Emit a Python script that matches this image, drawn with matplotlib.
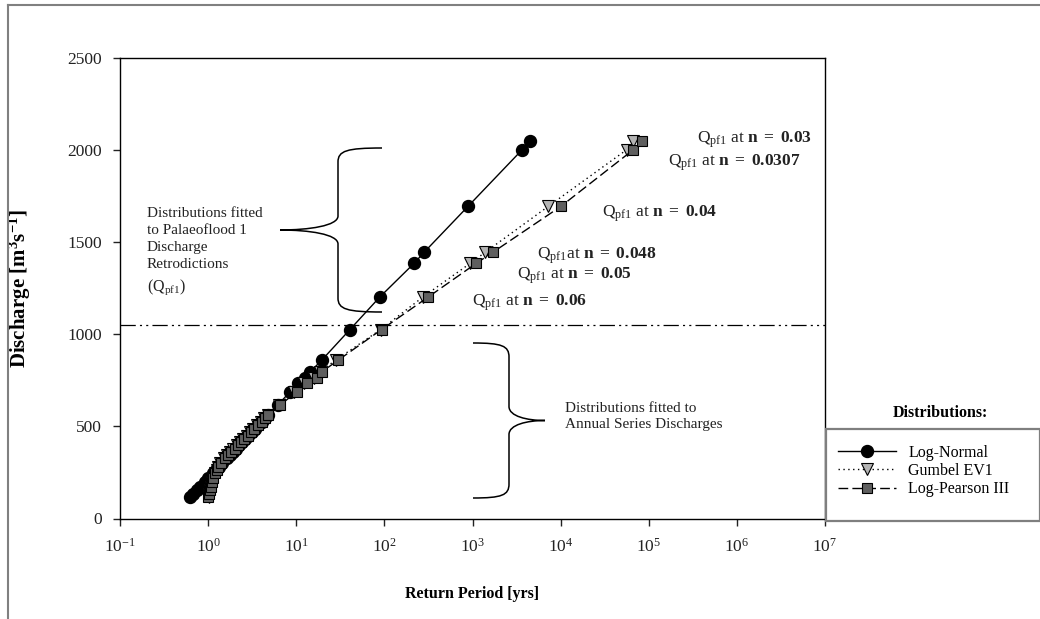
import matplotlib
matplotlib.use("Agg")
import matplotlib.pyplot as plt
from matplotlib.path import Path
from matplotlib.patches import PathPatch, Rectangle
from matplotlib.lines import Line2D
from matplotlib.ticker import NullLocator

# ---- data ----
# annual series discharges (m3/s) and the return periods each fit gives them
annual_q = [118, 135, 155, 172, 200, 218, 247, 265, 281, 300, 328, 345, 362, 380, 398,
            415, 432, 450, 468, 485, 505, 525, 545, 561, 615, 688, 735, 765, 796, 860, 1026]
lognormal_t_annual = [0.62, 0.67, 0.74, 0.80, 0.91, 0.99, 1.13, 1.23, 1.32, 1.44, 1.64, 1.77,
                      1.92, 2.08, 2.26, 2.44, 2.64, 2.86, 3.12, 3.37, 3.70, 4.05, 4.44, 4.77,
                      6.15, 8.5, 10.5, 12.6, 14.4, 19.5, 40.7]
gumbel_t_annual = [1.01, 1.03, 1.05, 1.08, 1.11, 1.14, 1.20, 1.25, 1.30, 1.38, 1.52, 1.64,
                   1.78, 1.94, 2.12, 2.30, 2.50, 2.73, 2.98, 3.24, 3.58, 3.95, 4.36, 4.72,
                   6.3, 9.5, 12.4, 15.8, 18.5, 28, 91]
lp3_t_annual = [1.00, 1.03, 1.05, 1.08, 1.10, 1.14, 1.20, 1.25, 1.29, 1.40, 1.55, 1.69,
                1.84, 2.01, 2.19, 2.38, 2.58, 2.82, 3.08, 3.34, 3.68, 4.06, 4.47, 4.83,
                6.55, 10.1, 13.2, 17.1, 19.5, 30, 93]

# palaeoflood 1 discharge retrodictions for several Manning n values
paleo_q = [1203, 1385, 1445, 1695, 2002, 2047]
paleo_n = ["0.06", "0.05", "0.048", "0.04", "0.0307", "0.03"]
lognormal_t_paleo = [89, 217, 282, 891, 3660, 4510]
gumbel_t_paleo = [275, 940, 1390, 7260, 56200, 66800]
lp3_t_paleo = [316, 1100, 1700, 10100, 66800, 83100]

threshold_q = 1050

W, H = 1040, 619

plt.rcParams["font.family"] = "Liberation Serif"
plt.rcParams["mathtext.fontset"] = "custom"
plt.rcParams["mathtext.rm"] = "Liberation Serif"
plt.rcParams["mathtext.bf"] = "Liberation Serif:bold"
plt.rcParams["mathtext.it"] = "Liberation Serif:italic"
plt.rcParams["lines.scale_dashes"] = False


def fx(x):
    return x / W


def fy(y):
    return 1 - y / H


def ax_xy(x, y):
    # pixel position -> axes fraction
    return (x - 120) / 705, (518.5 - y) / 460.5


def draw_brace(fig, x_end, x_mid, x_tip, y_top, y_bot, r=14):
    yc = (y_top + y_bot) / 2
    pts = [
        (x_end, y_top),
        (x_mid + 0.2 * (x_end - x_mid), y_top), (x_mid, y_top + 0.2 * r), (x_mid, y_top + r),
        (x_mid, yc - r),
        (x_mid, yc - 0.3 * r), (x_mid + 0.5 * (x_tip - x_mid), yc), (x_tip, yc),
        (x_mid + 0.5 * (x_tip - x_mid), yc), (x_mid, yc + 0.3 * r), (x_mid, yc + r),
        (x_mid, y_bot - r),
        (x_mid, y_bot - 0.2 * r), (x_mid + 0.2 * (x_end - x_mid), y_bot), (x_end, y_bot),
    ]
    codes = [Path.MOVETO] + [Path.CURVE4] * 3 + [Path.LINETO] + [Path.CURVE4] * 6 \
        + [Path.LINETO] + [Path.CURVE4] * 3
    verts = [(fx(x), fy(y)) for x, y in pts]
    fig.add_artist(PathPatch(Path(verts, codes), fill=False, lw=1.1, color="black",
                             transform=fig.transFigure))


def qlabel(n, gap=True):
    sp = r"\ " if gap else ""
    return (r"$\mathrm{Q_{pf1}" + sp + r"at\ }\mathbf{n}\ \mathbf{=}\ \mathbf{"
            + n + r"}$")


fig = plt.figure(figsize=(W / 100, H / 100), dpi=100)
ax = fig.add_axes([fx(120), fy(518.5), 705 / W, 460.5 / H])

ln_t = lognormal_t_annual + lognormal_t_paleo
gu_t = gumbel_t_annual + gumbel_t_paleo
lp_t = lp3_t_annual + lp3_t_paleo
all_q = annual_q + paleo_q

ax.plot(ln_t, all_q, color="black", lw=1.0, marker="o", ms=8.6,
        mfc="black", mec="black", label="Log-Normal")
ax.plot(gu_t, all_q, color="black", lw=1.0, dashes=(1, 2.5), marker="v", ms=8,
        mfc="#b4b4b4", mec="black", mew=0.8, label="Gumbel EV1")
ax.plot(lp_t, all_q, color="black", lw=1.0, dashes=(7, 3), marker="s", ms=7,
        mfc="#5f5f5f", mec="black", mew=0.8, label="Log-Pearson III")

ax.axhline(threshold_q, color="black", lw=0.9, dashes=(11, 3, 1.5, 3, 1.5, 3))

ax.set_xscale("log")
ax.set_xlim(0.1, 1e7)
ax.set_ylim(0, 2500)
ax.set_xticks([10.0 ** k for k in range(-1, 8)])
ax.xaxis.set_minor_locator(NullLocator())
ax.set_yticks([0, 500, 1000, 1500, 2000, 2500])
ax.tick_params(direction="out", length=5, width=1, labelsize=12.5, pad=8, colors="#222222")
ax.tick_params(axis="x", pad=9)
for s in ax.spines.values():
    s.set_linewidth(1.0)
    s.set_color("black")

ax.set_xlabel("Return Period [yrs]", fontsize=11.5, fontweight="bold")
ax.xaxis.set_label_coords(0.5, -0.147)
ax.set_ylabel(r"Discharge [m$^{\mathbf{3}}$s$^{\mathbf{-1}}$]", fontsize=15, fontweight="bold")
ax.yaxis.set_label_coords(-0.123, 0.5)

# labels for each palaeoflood retrodiction
label_px = [(472, 303), (517, 276), (537, 256), (602, 214), (668, 163), (697, 140)]
for n, (px, py) in zip(paleo_n, label_px):
    ax.text(*ax_xy(px, py), qlabel(n, gap=(n != "0.048")), transform=ax.transAxes,
            fontsize=12.5, va="center", ha="left", color="#222222")

ax.text(*ax_xy(147, 239), "Distributions fitted\nto Palaeoflood 1\nDischarge\nRetrodictions",
        transform=ax.transAxes, fontsize=11, va="center", ha="left", linespacing=1.4,
        color="#222222")
ax.text(*ax_xy(147, 287), r"($\mathrm{Q_{pf1}}$)", transform=ax.transAxes, fontsize=11.5,
        va="center", ha="left", color="#222222")
ax.text(*ax_xy(565, 416.5), "Distributions fitted to\nAnnual Series Discharges",
        transform=ax.transAxes, fontsize=11, va="center", ha="left", linespacing=1.3,
        color="#222222")

draw_brace(fig, 382, 338, 280, 148, 312)
draw_brace(fig, 473, 509, 545, 343, 498)

# legend, boxed below its title
fig.add_artist(Rectangle((fx(826), fy(521)), fx(1040) - fx(826), fy(429) - fy(521),
                         transform=fig.transFigure, fill=False, lw=1.6, ec="#7f7f7f"))
fig.text(fx(940), fy(413), "Distributions:", fontsize=11.5, fontweight="bold",
         ha="center", va="center")
fig.legend(loc="center left", bbox_to_anchor=(fx(838), fy(471)), frameon=False,
           fontsize=11.5, handlelength=3.6, labelspacing=0.15, handletextpad=0.8,
           borderaxespad=0, borderpad=0)

# outer chart border
fig.add_artist(Line2D([fx(8), fx(8)], [0, fy(5)], color="#808080", lw=1.5,
                      transform=fig.transFigure))
fig.add_artist(Line2D([fx(8), 1], [fy(5), fy(5)], color="#808080", lw=1.5,
                      transform=fig.transFigure))

fig.savefig("out.png", dpi=100)
